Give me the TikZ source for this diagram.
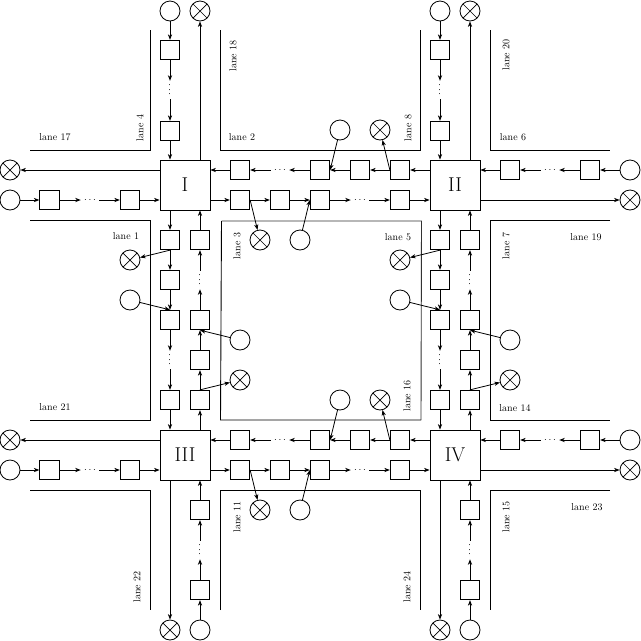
\documentclass[tikz,border=0pt]{standalone}
\usetikzlibrary{arrows.meta}
\tikzset{
  arr/.style={-{Stealth[length=5.5pt,width=4.2pt,inset=1.6pt]}},
  box/.style={draw, rectangle, minimum size=19.5pt, inner sep=0pt},
  inter/.style={draw, rectangle, minimum size=50pt, inner sep=0pt, font=\fontsize{20}{24}\selectfont},
  src/.style={draw, circle, minimum size=20pt, inner sep=0pt},
  snk/.style={src, path picture={\draw[line width=0.7pt]
     ([shift={(-7pt,-7pt)}]path picture bounding box.center) -- ([shift={(7pt,7pt)}]path picture bounding box.center)
     ([shift={(-7pt,7pt)}]path picture bounding box.center) -- ([shift={(7pt,-7pt)}]path picture bounding box.center);}},
  dh/.style={inner sep=3pt, font=\normalsize},
  dv/.style={dh, rotate=90},
  lab/.style={inner sep=0pt, font=\normalsize},
  labv/.style={lab, rotate=90},
  edge/.style={line width=0.8pt},
  centre/.style={black!80, line width=0.9pt},
  centredark/.style={black, line width=0.9pt}
}
% eastbound link: prefix, y, from node, to node
\newcommand\linkE[4]{%
  \node[box] (#1a) at (240,#2) {};
  \node[box] (#1b) at (280,#2) {};
  \node[box] (#1c) at (320,#2) {};
  \node[dh]  (#1d) at (360,#2) {$\cdots$};
  \node[box] (#1e) at (400,#2) {};
  \node[snk] (#1x) at (260,#2+40) {};
  \node[src] (#1s) at (300,#2+40) {};
  \draw[arr] (#3.east |- #1a) -- (#1a);
  \draw[arr] (#1a) -- (#1b);
  \draw[arr] (#1b) -- (#1c);
  \draw[arr] (#1c) -- (#1d);
  \draw[arr] (#1d) -- (#1e);
  \draw[arr] (#1e) -- (#1e -| #4.west);
  \draw[arr] (#1a.east) -- (#1x);
  \draw[arr] (#1s) -- (#1c.west);
}
% westbound link
\newcommand\linkW[4]{%
  \node[box] (#1a) at (400,#2) {};
  \node[box] (#1b) at (360,#2) {};
  \node[box] (#1c) at (320,#2) {};
  \node[dh]  (#1d) at (280,#2) {$\cdots$};
  \node[box] (#1e) at (240,#2) {};
  \node[snk] (#1x) at (380,#2-40) {};
  \node[src] (#1s) at (340,#2-40) {};
  \draw[arr] (#3.west |- #1a) -- (#1a);
  \draw[arr] (#1a) -- (#1b);
  \draw[arr] (#1b) -- (#1c);
  \draw[arr] (#1c) -- (#1d);
  \draw[arr] (#1d) -- (#1e);
  \draw[arr] (#1e) -- (#1e -| #4.east);
  \draw[arr] (#1a.west) -- (#1x);
  \draw[arr] (#1s) -- (#1c.east);
}
% southbound link
\newcommand\linkS[4]{%
  \node[box] (#1a) at (#2,240) {};
  \node[box] (#1b) at (#2,280) {};
  \node[box] (#1c) at (#2,320) {};
  \node[dv]  (#1d) at (#2,360) {$\cdots$};
  \node[box] (#1e) at (#2,400) {};
  \node[snk] (#1x) at (#2-40,260) {};
  \node[src] (#1s) at (#2-40,300) {};
  \draw[arr] (#3.south -| #1a) -- (#1a);
  \draw[arr] (#1a) -- (#1b);
  \draw[arr] (#1b) -- (#1c);
  \draw[arr] (#1c) -- (#1d);
  \draw[arr] (#1d) -- (#1e);
  \draw[arr] (#1e) -- (#1e |- #4.north);
  \draw[arr] (#1a.south) -- (#1x);
  \draw[arr] (#1s) -- (#1c.north);
}
% northbound link
\newcommand\linkN[4]{%
  \node[box] (#1a) at (#2,400) {};
  \node[box] (#1b) at (#2,360) {};
  \node[box] (#1c) at (#2,320) {};
  \node[dv]  (#1d) at (#2,280) {$\cdots$};
  \node[box] (#1e) at (#2,240) {};
  \node[snk] (#1x) at (#2+40,380) {};
  \node[src] (#1s) at (#2+40,340) {};
  \draw[arr] (#3.north -| #1a) -- (#1a);
  \draw[arr] (#1a) -- (#1b);
  \draw[arr] (#1b) -- (#1c);
  \draw[arr] (#1c) -- (#1d);
  \draw[arr] (#1d) -- (#1e);
  \draw[arr] (#1e) -- (#1e |- #4.south);
  \draw[arr] (#1a.north) -- (#1x);
  \draw[arr] (#1s) -- (#1c.south);
}
% incoming outer chain: prefix, src, box1, dots, box2, dots style, final target
\newcommand\inchain[7]{%
  \node[src] (#1s) at (#2) {};
  \node[box] (#1a) at (#3) {};
  \node[#6]  (#1d) at (#4) {$\cdots$};
  \node[box] (#1b) at (#5) {};
  \draw[arr] (#1s) -- (#1a);
  \draw[arr] (#1a) -- (#1d);
  \draw[arr] (#1d) -- (#1b);
  \draw[arr] (#1b) -- (#1b #7);
}
% outgoing sink: name, position, start expression
\newcommand\outsink[3]{%
  \node[snk] (#1) at (#2) {};
  \draw[arr] (#3 #1) -- (#1);
}
\begin{document}
\begin{tikzpicture}[x=1pt,y=-1pt,line width=0.8pt]
\useasboundingbox (0,0) rectangle (641,641);

% road edges
\draw[edge] (150,30) -- (150,150) -- (30,150);
\draw[edge] (220,30) -- (220,150) -- (420,150) -- (420,30);
\draw[edge] (490,30) -- (490,150) -- (610,150);
\draw[edge] (30,220) -- (150,220) -- (150,420) -- (30,420);
\draw[edge] (610,220) -- (490,220) -- (490,420) -- (610,420);
\draw[edge] (30,490) -- (150,490) -- (150,610);
\draw[edge] (220,610) -- (220,490) -- (420,490) -- (420,610);
\draw[edge] (610,490) -- (490,490) -- (490,610);
% central block
\draw[centre] (221.5,221) -- (421.5,221) -- (421,420);
\draw[centredark] (421,420) -- (220.5,420) -- (221.5,221);

% intersections
\node[inter] (nI)   at (185,185) {I};
\node[inter] (nII)  at (455,185) {II};
\node[inter] (nIII) at (185,455) {III};
\node[inter] (nIV)  at (455,455) {IV};

% inner links
\linkE{ea}{200}{nI}{nII}
\linkW{wa}{170}{nII}{nI}
\linkE{eb}{470}{nIII}{nIV}
\linkW{wb}{440}{nIV}{nIII}
\linkS{sa}{170}{nI}{nIII}
\linkN{na}{200}{nIII}{nI}
\linkS{sb}{440}{nII}{nIV}
\linkN{nb}{470}{nIV}{nII}

% outer incoming chains
\inchain{aN}{170,11}{170,50}{170,90}{170,131}{dv}{|- nI.north}
\inchain{aW}{10,200}{49.5,200}{90,200}{130,200}{dh}{-| nI.west}
\inchain{bN}{440,11}{440,50}{440,90}{440,131}{dv}{|- nII.north}
\inchain{bE}{630,170}{590,170}{550,170}{510,170}{dh}{-| nII.east}
\inchain{cW}{10,470}{49.5,470}{90,470}{130,470}{dh}{-| nIII.west}
\inchain{cS}{200,630}{200,590}{200,550}{200,510}{dv}{|- nIII.south}
\inchain{dE}{630,440}{590,440}{550,440}{510,440}{dh}{-| nIV.east}
\inchain{dS}{470,630}{470,590}{470,550}{470,510}{dv}{|- nIV.south}

% outer outgoing sinks
\outsink{aNx}{200,11}{nI.north -|}
\outsink{aWx}{10,170}{nI.west |-}
\outsink{bNx}{470,11}{nII.north -|}
\outsink{bEx}{630,200}{nII.east |-}
\outsink{cWx}{10,440}{nIII.west |-}
\outsink{cSx}{170,630}{nIII.south -|}
\outsink{dEx}{630,470}{nIV.east |-}
\outsink{dSx}{440,630}{nIV.south -|}

% lane labels
\node[lab]  (l17) at (55,137)  {lane 17};
\node[labv] (l4)  at (140,128) {lane 4};
\node[labv] (l18) at (233,56)  {lane 18};
\node[lab]  (l2)  at (242,137) {lane 2};
\node[lab]  (l1)  at (126,236) {lane 1};
\node[labv] (l3)  at (237,246) {lane 3};
\node[labv] (l8)  at (408,128) {lane 8};
\node[labv] (l20) at (506,55)  {lane 20};
\node[lab]  (l6)  at (513,137) {lane 6};
\node[lab]  (l5)  at (398,237) {lane 5};
\node[labv] (l7)  at (506,246) {lane 7};
\node[lab]  (l19) at (586,237) {lane 19};
\node[lab]  (l21) at (55,407)  {lane 21};
\node[labv] (l22) at (137,587) {lane 22};
\node[labv] (l11) at (237,517) {lane 11};
\node[labv] (l16) at (407,396) {lane 16};
\node[lab]  (l14) at (515,408) {lane 14};
\node[labv] (l15) at (506,517) {lane 15};
\node[lab]  (l23) at (587,507) {lane 23};
\node[labv] (l24) at (407,587) {lane 24};
\end{tikzpicture}
\end{document}
